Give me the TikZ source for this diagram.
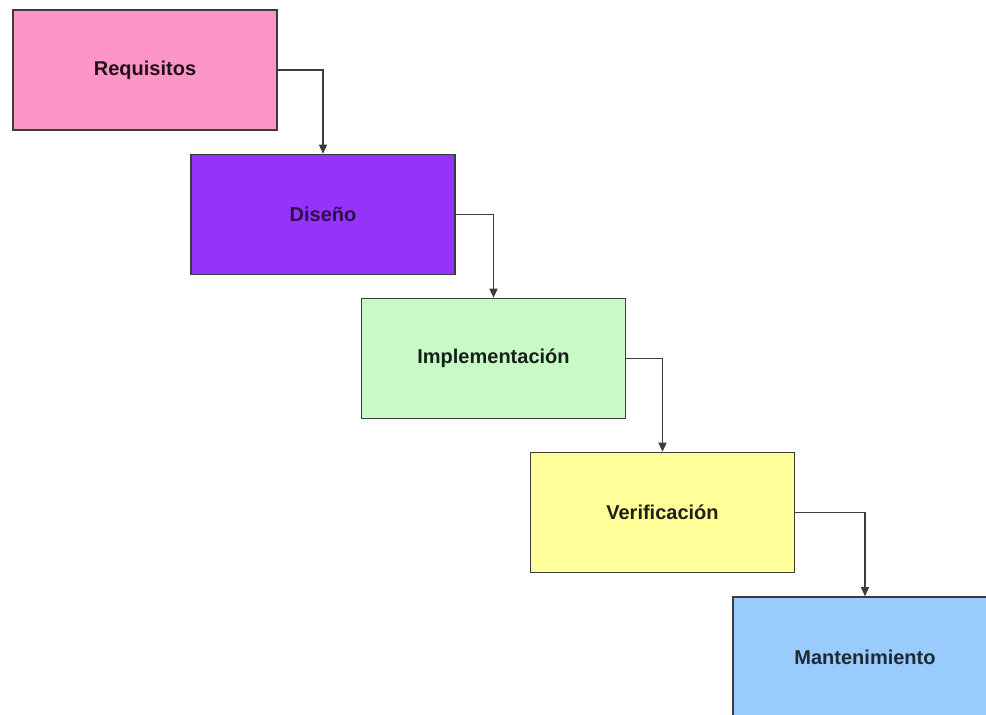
\documentclass[tikz,border=0pt]{standalone}
\usepackage{fontspec}
\setmainfont{Liberation Sans}
\usetikzlibrary{arrows.meta}
\definecolor{reqfill}{HTML}{FD96C6}
\definecolor{disfill}{HTML}{9633FB}
\definecolor{impfill}{HTML}{C8FAC8}
\definecolor{verfill}{HTML}{FFFF99}
\definecolor{manfill}{HTML}{99CBFD}
\definecolor{edge}{HTML}{3C3C3C}
\tikzset{
  phase/.style={draw=edge, line width=1.6pt, minimum width=264pt, minimum height=120pt,
    inner sep=0pt, font=\fontsize{20}{24}\selectfont\bfseries},
  flow/.style={draw=edge, line width=1.4pt, -{Triangle[length=9pt,width=8pt]}}
}
\begin{document}
\begin{tikzpicture}[x=1pt,y=-1pt]
  \clip (0,0) rectangle (986,715);
  \fill[white] (0,0) rectangle (986,715);
  % waterfall phases
  \node[phase, fill=reqfill, text=reqfill!12!black] (req) at (145,70) {Requisitos};
  \node[phase, fill=disfill, text=disfill!30!black] (dis) at (323,214.5) {Diseño};
  \node[phase, fill=impfill, text=impfill!12!black] (imp) at (493.5,358.5) {Implementación};
  \node[phase, fill=verfill, text=verfill!12!black] (ver) at (662.5,512.5) {Verificación};
  \node[phase, fill=manfill, text=manfill!20!black] (man) at (865,657) {Mantenimiento};
  % step connectors
  \draw[flow] (req.east) -| (dis.north);
  \draw[flow] (dis.east) -| (imp.north);
  \draw[flow] (imp.east) -| (ver.north);
  \draw[flow] (ver.east) -| (man.north);
\end{tikzpicture}
\end{document}
